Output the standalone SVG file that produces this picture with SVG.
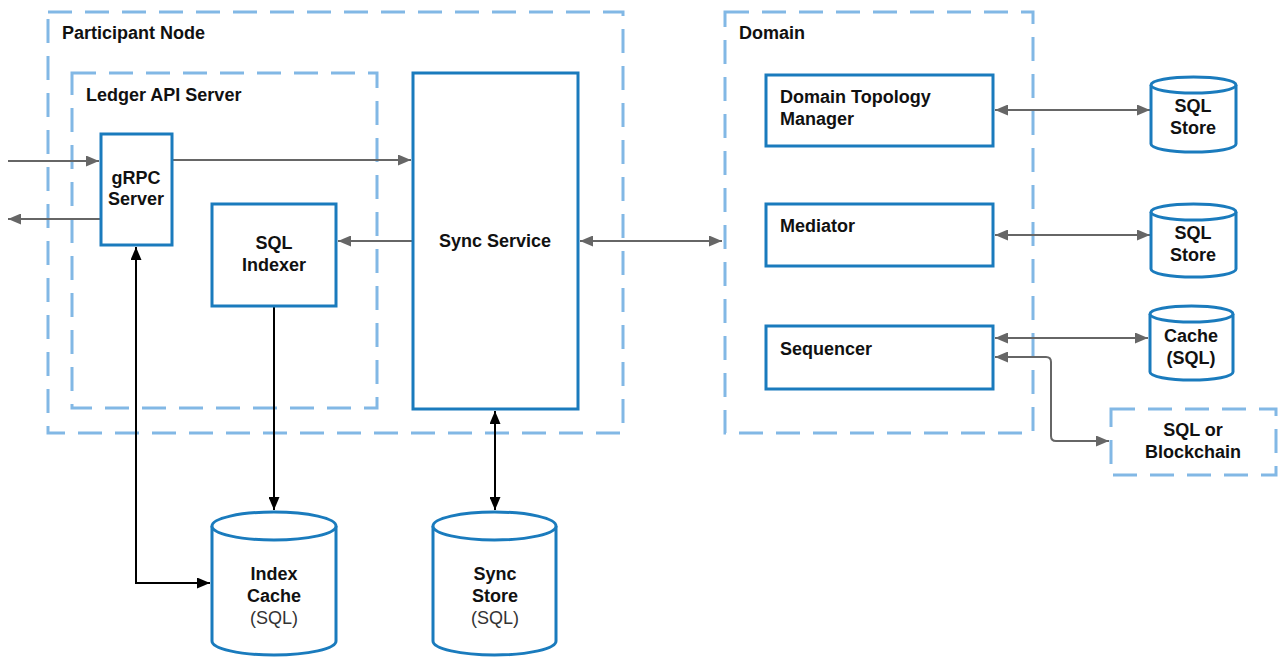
<svg xmlns="http://www.w3.org/2000/svg" width="1280" height="657" viewBox="0 0 1280 657">
<style>
.grp{fill:none;stroke:#82b8e5;stroke-width:3;stroke-dasharray:24 13}
.box{fill:#fff;stroke:#1a7bbd;stroke-width:3}
.t{font-family:"Liberation Sans",Arial,sans-serif;font-size:18px;font-weight:bold;fill:#111}
.n{font-weight:normal;fill:#333}
.c{text-anchor:middle}
.g{fill:none;stroke:#666;stroke-width:2}
.k{fill:none;stroke:#000;stroke-width:2}
</style>
<defs>
<marker id="ag" viewBox="0 0 13 11" refX="13" refY="5.5" markerWidth="13" markerHeight="11" markerUnits="userSpaceOnUse" orient="auto-start-reverse"><path d="M0,0 L13,5.5 L0,11 Z" fill="#666"/></marker>
<marker id="ak" viewBox="0 0 13 11" refX="13" refY="5.5" markerWidth="13" markerHeight="11" markerUnits="userSpaceOnUse" orient="auto-start-reverse"><path d="M0,0 L13,5.5 L0,11 Z" fill="#000"/></marker>
</defs>
<rect width="1280" height="657" fill="#fff"/>

<g id="participant-node">
<rect class="grp" x="48" y="12" width="575" height="421"/>
<text class="t" x="62" y="39">Participant Node</text>
</g>
<g id="ledger-api-server">
<rect class="grp" x="72" y="73" width="305" height="335"/>
<text class="t" x="86" y="101">Ledger API Server</text>
</g>
<g id="domain">
<rect class="grp" x="725" y="12" width="308" height="421"/>
<text class="t" x="739" y="39">Domain</text>
</g>
<g id="sql-or-blockchain">
<rect class="grp" x="1111" y="409" width="165" height="66"/>
<text class="t c" x="1193" y="436">SQL or</text>
<text class="t c" x="1193" y="458">Blockchain</text>
</g>

<g id="connectors">
<line class="g" x1="8" y1="161" x2="99" y2="161" marker-end="url(#ag)"/>
<line class="g" x1="100" y1="219" x2="8" y2="219" marker-end="url(#ag)"/>
<line class="g" x1="172" y1="160" x2="411" y2="160" marker-end="url(#ag)"/>
<line class="g" x1="412" y1="241" x2="338" y2="241" marker-end="url(#ag)"/>
<line class="g" x1="580" y1="241" x2="722" y2="241" marker-start="url(#ag)" marker-end="url(#ag)"/>
<line class="g" x1="995" y1="110" x2="1150" y2="110" marker-start="url(#ag)" marker-end="url(#ag)"/>
<line class="g" x1="995" y1="235" x2="1150" y2="235" marker-start="url(#ag)" marker-end="url(#ag)"/>
<line class="g" x1="995" y1="338" x2="1148" y2="338" marker-start="url(#ag)" marker-end="url(#ag)"/>
<path class="g" d="M995,357 H1046 Q1051,357 1051,362 V436 Q1051,441 1056,441 H1109" marker-start="url(#ag)" marker-end="url(#ag)"/>
<path class="k" d="M136,247 V583 H210" marker-start="url(#ak)" marker-end="url(#ak)"/>
<line class="k" x1="274" y1="307" x2="274" y2="510" marker-end="url(#ak)"/>
<line class="k" x1="495" y1="411" x2="495" y2="510" marker-start="url(#ak)" marker-end="url(#ak)"/>
</g>

<g id="grpc-server">
<rect class="box" x="101" y="134" width="71" height="111"/>
<text class="t c" x="136" y="184">gRPC</text>
<text class="t c" x="136" y="205">Server</text>
</g>
<g id="sql-indexer">
<rect class="box" x="212" y="204" width="124" height="102"/>
<text class="t c" x="274" y="249">SQL</text>
<text class="t c" x="274" y="271">Indexer</text>
</g>
<g id="sync-service">
<rect class="box" x="413" y="73" width="165" height="336"/>
<text class="t c" x="495" y="247">Sync Service</text>
</g>
<g id="domain-topology-manager">
<rect class="box" x="766" y="75" width="227" height="71"/>
<text class="t" x="780" y="103">Domain Topology</text>
<text class="t" x="780" y="125">Manager</text>
</g>
<g id="mediator">
<rect class="box" x="766" y="204" width="227" height="62"/>
<text class="t" x="780" y="232">Mediator</text>
</g>
<g id="sequencer">
<rect class="box" x="766" y="326" width="227" height="63"/>
<text class="t" x="780" y="355">Sequencer</text>
</g>

<g id="sql-store-1">
<path class="box" d="M1151,85 A42.5,8 0 0 1 1236,85 V144 A42.5,8 0 0 1 1151,144 Z"/>
<path class="box" d="M1151,85 A42.5,8 0 0 0 1236,85"/>
<text class="t c" x="1193" y="112">SQL</text>
<text class="t c" x="1193" y="134">Store</text>
</g>
<g id="sql-store-2">
<path class="box" d="M1151,212 A42.5,8 0 0 1 1236,212 V269 A42.5,8 0 0 1 1151,269 Z"/>
<path class="box" d="M1151,212 A42.5,8 0 0 0 1236,212"/>
<text class="t c" x="1193" y="239">SQL</text>
<text class="t c" x="1193" y="261">Store</text>
</g>
<g id="cache-sql">
<path class="box" d="M1150,314 A41.5,8 0 0 1 1233,314 V372 A41.5,8 0 0 1 1150,372 Z"/>
<path class="box" d="M1150,314 A41.5,8 0 0 0 1233,314"/>
<text class="t c" x="1191" y="342">Cache</text>
<text class="t c" x="1191" y="364">(SQL)</text>
</g>
<g id="index-cache">
<path class="box" d="M212,526 A62,14 0 0 1 336,526 V641 A62,14 0 0 1 212,641 Z"/>
<path class="box" d="M212,526 A62,14 0 0 0 336,526"/>
<text class="t c" x="274" y="580">Index</text>
<text class="t c" x="274" y="602">Cache</text>
<text class="t c n" x="274" y="624">(SQL)</text>
</g>
<g id="sync-store">
<path class="box" d="M433,526 A61.5,14 0 0 1 556,526 V641 A61.5,14 0 0 1 433,641 Z"/>
<path class="box" d="M433,526 A61.5,14 0 0 0 556,526"/>
<text class="t c" x="495" y="580">Sync</text>
<text class="t c" x="495" y="602">Store</text>
<text class="t c n" x="495" y="624">(SQL)</text>
</g>
</svg>
